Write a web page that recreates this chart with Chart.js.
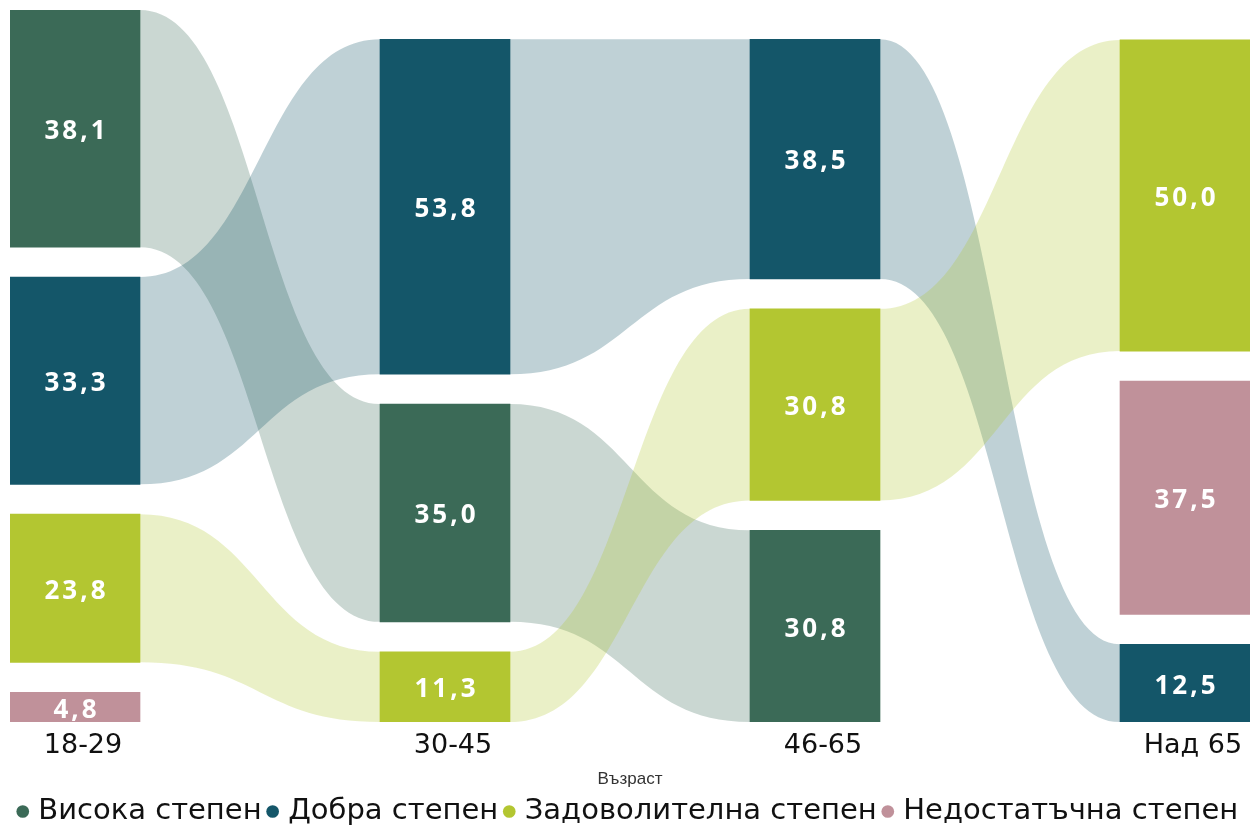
<!DOCTYPE html>
<html lang="bg">
<head>
<meta charset="utf-8">
<script src="https://cdn.jsdelivr.net/npm/chart.js@4.4.1/dist/chart.umd.min.js"></script>
<style>
    html, body { margin: 0; padding: 0; background: #fff; }
    #wrap { width: 1253px; height: 831px; }
</style>
</head>
<body>
<div id="wrap"><canvas id="sankeyChart"></canvas></div>
<script>
const ageGroups = ['18-29', '30-45', '46-65', 'Над 65'];
const levels = ['Висока степен', 'Добра степен', 'Задоволителна степен', 'Недостатъчна степен'];
const visoka = [38.1, 35.0, 30.8, null];
const dobra = [33.3, 53.8, 38.5, 12.5];
const zadovolitelna = [23.8, 11.3, 30.8, 50.0];
const nedostatachna = [4.8, null, null, 37.5];

const series = [visoka, dobra, zadovolitelna, nedostatachna];
const levelColors = ['#3b6a57', '#145669', '#b3c631', '#c0919a'];

const GAP = 4.8;      // празно място между възлите (в %)
const BAR_W = 130;
const EDGE = 65 / 370; // половин стълб спрямо разстоянието между колоните

// подреждане на всяка колона: най-голямото отгоре, с празнина между възлите
const ranges = series.map(() => []);
ageGroups.forEach((_, c) => {
    const nodes = series.map((s, i) => ({ i, v: s[c] })).filter(n => n.v != null);
    nodes.sort((a, b) => (a.v - b.v) || (a.i - b.i));
    let y = 0;
    nodes.forEach(n => {
        ranges[n.i][c] = [y, y + n.v];
        y += n.v + GAP;
    });
});

function rgba(hex, a) {
    const n = parseInt(hex.slice(1), 16);
    return `rgba(${(n >> 16) & 255},${(n >> 8) & 255},${n & 255},${a})`;
}

const flowPlugin = {
    id: 'flows',
    beforeDatasetsDraw(chart) {
        const { ctx, scales: { x, y } } = chart;
        ctx.save();
        series.forEach((s, i) => {
            for (let c = 0; c < ageGroups.length - 1; c++) {
                const a = ranges[i][c], b = ranges[i][c + 1];
                if (!a || !b) continue;
                const x0 = x.getPixelForValue(c) + BAR_W / 2;
                const x1 = x.getPixelForValue(c + 1) - BAR_W / 2;
                const xm = (x0 + x1) / 2;
                const aTop = y.getPixelForValue(a[1]), aBot = y.getPixelForValue(a[0]);
                const bTop = y.getPixelForValue(b[1]), bBot = y.getPixelForValue(b[0]);
                ctx.beginPath();
                ctx.moveTo(x0, aTop);
                ctx.bezierCurveTo(xm, aTop, xm, bTop, x1, bTop);
                ctx.lineTo(x1, bBot);
                ctx.bezierCurveTo(xm, bBot, xm, aBot, x0, aBot);
                ctx.closePath();
                ctx.fillStyle = rgba(levelColors[i], 0.27);
                ctx.fill();
            }
        });
        ctx.restore();
    }
};

const valueLabels = {
    id: 'valueLabels',
    afterDatasetsDraw(chart) {
        const { ctx } = chart;
        ctx.save();
        ctx.font = '700 26px "Open Sans"';
        ctx.letterSpacing = '3px';
        ctx.fillStyle = '#ffffff';
        ctx.textAlign = 'center';
        ctx.textBaseline = 'middle';
        chart.data.datasets.forEach((ds, i) => {
            chart.getDatasetMeta(i).data.forEach((bar, j) => {
                const raw = ds.data[j];
                const v = raw.y[1] - raw.y[0];
                ctx.fillText(v.toFixed(1).replace('.', ','), bar.x + 1.5, (bar.y + bar.base) / 2 + 3);
            });
        });
        ctx.restore();
    }
};

const datasets = levels.map((label, i) => ({
    label,
    data: ageGroups.map((_, c) => ranges[i][c] ? { x: c, y: ranges[i][c] } : null).filter(Boolean),
    backgroundColor: levelColors[i],
    borderWidth: 0,
    barThickness: BAR_W,
    grouped: false
}));

new Chart(document.getElementById('sankeyChart'), {
    type: 'bar',
    data: { datasets },
    plugins: [flowPlugin, valueLabels],
    options: {
        responsive: true,
        maintainAspectRatio: false,
        animation: false,
        layout: { padding: { left: 10, right: 3, top: 10, bottom: -5 } },
        scales: {
            x: {
                type: 'linear',
                offset: false,
                min: -EDGE,
                max: ageGroups.length - 1 + EDGE,
                grid: { display: false, drawTicks: false, offset: false },
                border: { display: false },
                afterBuildTicks: axis => { axis.ticks = ageGroups.map((_, i) => ({ value: i })); },
                ticks: {
                    callback: v => ageGroups[v],
                    autoSkip: false,
                    maxRotation: 0,
                    labelOffset: 8,
                    padding: 18,
                    color: '#111',
                    font: { family: 'DejaVu Sans', size: 27, lineHeight: 0.43 }
                },
                title: {
                    display: true,
                    text: 'Възраст',
                    color: '#333',
                    padding: { top: 2, bottom: 0 },
                    font: { family: 'Liberation Sans', size: 17, lineHeight: 0.9 }
                }
            },
            y: {
                display: false,
                min: 0,
                max: 100 + 3 * GAP
            }
        },
        plugins: {
            tooltip: { enabled: false },
            legend: {
                position: 'bottom',
                labels: {
                    usePointStyle: true,
                    pointStyle: 'circle',
                    boxWidth: 2,
                    boxHeight: 9,
                    padding: 10,
                    color: '#111',
                    font: { family: 'DejaVu Sans', size: 29 }
                }
            }
        }
    }
});
</script>
</body>
</html>
